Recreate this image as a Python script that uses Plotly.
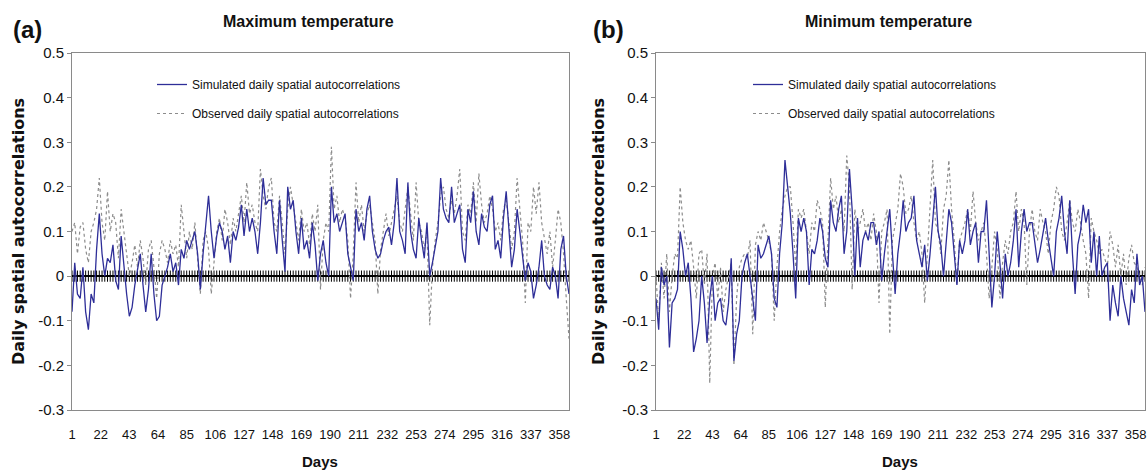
import plotly.graph_objects as go

# ---------------- data ----------------
ALL_DAYS = list(range(1, 366))
DAYS = list(range(1, 366, 2))          # sampled days 1,3,...,365
XTICKS = [1, 22, 43, 64, 85, 106, 127, 148, 169, 190, 211, 232, 253, 274, 295, 316, 337, 358]
YTICKS = [-0.3, -0.2, -0.1, 0, 0.1, 0.2, 0.3, 0.4, 0.5]
YTICK_TEXT = ["-0.3", "-0.2", "-0.1", "0", "0.1", "0.2", "0.3", "0.4", "0.5"]

SIM_MAX = [
    -0.08, 0.03, -0.04, -0.05, 0.02, -0.08, -0.12, -0.04, -0.06, 0.06,
    0.14, 0.05, 0.00, 0.04, 0.03, 0.07, -0.01, -0.03, 0.09, 0.02,
    -0.04, -0.09, -0.07, -0.02, 0.02, 0.05, -0.02, -0.08, -0.03, 0.05,
    -0.04, -0.10, -0.09, -0.02, 0.00, 0.02, 0.05, 0.01, 0.03, -0.02,
    0.06, 0.04, 0.08, 0.06, 0.08, 0.10, 0.05, -0.03, 0.05, 0.12,
    0.18, 0.10, 0.04, 0.09, 0.12, 0.10, 0.06, 0.09, 0.03, 0.10,
    0.08, 0.11, 0.16, 0.09, 0.15, 0.10, 0.13, 0.10, 0.05, 0.12,
    0.22, 0.16, 0.17, 0.17, 0.10, 0.05, 0.17, 0.08, 0.01, 0.20,
    0.15, 0.17, 0.10, 0.05, 0.13, 0.06, 0.08, 0.04, 0.12, 0.07,
    -0.01, 0.05, 0.08, 0.03, 0.00, 0.20, 0.12, 0.14, 0.10, 0.12,
    0.14, 0.05, 0.02, -0.01, 0.15, 0.10, 0.12, 0.08, 0.15, 0.18,
    0.10, 0.06, 0.04, 0.05, 0.08, 0.10, 0.11, 0.07, 0.12, 0.22,
    0.10, 0.08, 0.05, 0.21, 0.10, 0.06, 0.04, 0.13, 0.08, 0.04,
    0.12, 0.00, 0.03, 0.07, 0.10, 0.22, 0.15, 0.13, 0.12, 0.20,
    0.12, 0.14, 0.16, 0.06, 0.03, 0.15, 0.12, 0.19, 0.10, 0.07,
    0.14, 0.11, 0.10, 0.16, 0.18, 0.06, 0.08, 0.04, 0.13, 0.19,
    0.10, 0.02, 0.06, 0.15, 0.10, 0.05, -0.01, 0.03, 0.01, -0.05,
    -0.02, 0.02, 0.08, 0.00, -0.02, -0.03, 0.02, 0.00, -0.05, 0.06,
    0.09, 0.00, -0.04,
]

OBS_MAX = [
    0.10, 0.12, 0.05, 0.11, 0.12, 0.06, 0.03, 0.10, 0.12, 0.15,
    0.22, 0.12, 0.08, 0.19, 0.10, 0.14, 0.12, 0.04, 0.15, 0.10,
    0.05, 0.00, 0.03, 0.07, 0.02, 0.08, 0.04, -0.02, 0.06, 0.08,
    0.02, -0.05, 0.05, 0.08, 0.06, 0.03, 0.08, 0.05, 0.07, 0.02,
    0.16, 0.10, 0.04, 0.10, 0.06, 0.12, 0.03, -0.04, 0.08, 0.10,
    0.06, -0.04, 0.03, 0.10, 0.13, 0.08, 0.15, 0.12, 0.07, 0.13,
    0.10, 0.14, 0.18, 0.12, 0.21, 0.14, 0.16, 0.12, 0.10, 0.24,
    0.18, 0.15, 0.20, 0.22, 0.12, 0.10, 0.18, 0.12, 0.05, 0.15,
    0.20, 0.16, 0.12, 0.08, 0.15, 0.10, 0.12, 0.07, 0.14, 0.10,
    0.16, -0.03, 0.08, 0.12, 0.10, 0.29, 0.15, 0.18, 0.12, 0.15,
    0.13, 0.08, -0.05, 0.05, 0.21, 0.12, 0.16, 0.10, 0.14, 0.16,
    0.12, 0.08, -0.04, 0.06, 0.10, 0.14, 0.09, 0.12, 0.15, 0.18,
    0.12, 0.10, 0.15, 0.20, 0.14, 0.08, 0.21, 0.12, 0.10, 0.06,
    0.10, -0.11, 0.02, 0.08, 0.12, 0.18, 0.20, 0.15, 0.13, 0.17,
    0.14, 0.18, 0.24, 0.10, 0.08, 0.16, 0.14, 0.21, 0.12, 0.23,
    0.16, 0.12, 0.14, 0.18, 0.15, 0.10, 0.12, 0.08, 0.15, 0.17,
    0.12, 0.06, 0.10, 0.22, 0.15, 0.08, -0.06, 0.12, 0.10, 0.20,
    0.14, 0.21, 0.12, 0.08, 0.05, 0.10, 0.02, 0.08, 0.15, 0.12,
    0.05, -0.05, -0.14,
]

SIM_MIN = [
    -0.05, -0.12, 0.02, -0.02, 0.00, -0.16, -0.06, -0.05, -0.03, 0.10,
    0.06, 0.00, 0.03, -0.05, -0.17, -0.14, -0.10, 0.00, -0.06, -0.15,
    -0.05, 0.00, -0.10, -0.06, -0.05, -0.10, -0.11, -0.06, 0.04, -0.19,
    -0.13, -0.10, 0.00, 0.03, 0.05, 0.00, -0.04, -0.10, 0.07, 0.04,
    0.05, 0.07, 0.09, 0.05, -0.05, -0.07, 0.05, 0.12, 0.26, 0.20,
    0.14, 0.05, -0.05, 0.13, 0.10, 0.13, 0.10, -0.02, 0.06, 0.05,
    0.08, 0.13, 0.10, 0.04, 0.02, 0.17, 0.12, 0.10, 0.15, 0.18,
    0.05, 0.10, 0.24, 0.15, 0.00, 0.13, 0.02, 0.08, 0.10, 0.08,
    0.12, 0.12, 0.07, 0.10, -0.01, 0.05, 0.10, 0.15, 0.05, -0.04,
    0.05, 0.10, 0.17, 0.10, 0.12, 0.13, 0.18, 0.08, 0.05, 0.02,
    0.07, -0.01, 0.05, 0.12, 0.20, 0.10, 0.07, 0.00, 0.08, 0.15,
    0.12, 0.05, -0.02, 0.08, 0.05, 0.08, 0.15, 0.07, 0.10, 0.12,
    0.03, 0.10, 0.10, 0.17, 0.05, -0.07, 0.00, 0.10, 0.03, -0.05,
    0.05, 0.00, 0.03, 0.08, 0.15, 0.02, 0.10, 0.15, 0.10, 0.12,
    0.12, 0.08, 0.03, 0.06, 0.10, 0.13, 0.08, 0.04, 0.00, 0.10,
    0.13, 0.18, 0.10, 0.05, 0.17, 0.05, -0.04, 0.07, 0.10, 0.16,
    0.12, 0.15, 0.03, 0.10, 0.00, 0.09, 0.00, 0.02, 0.03, -0.10,
    -0.02, -0.06, -0.09, 0.00, -0.05, -0.08, -0.11, -0.03, -0.06, 0.05,
    -0.02, 0.00, -0.08,
]

OBS_MIN = [
    0.00, -0.10, 0.03, -0.05, 0.05, -0.08, 0.00, 0.05, 0.04, 0.20,
    0.12, 0.08, 0.06, 0.08, 0.02, -0.05, 0.05, 0.06, -0.02, 0.05,
    -0.24, 0.00, 0.03, -0.05, 0.02, -0.08, -0.03, 0.00, 0.03, -0.20,
    -0.05, 0.02, 0.04, 0.05, 0.04, 0.08, -0.13, 0.07, 0.10, 0.08,
    0.12, 0.10, 0.08, 0.05, -0.10, 0.02, 0.10, 0.15, 0.18, 0.20,
    0.20, 0.12, 0.02, 0.15, 0.13, 0.15, 0.10, 0.05, 0.12, 0.10,
    0.17, 0.15, 0.12, -0.07, 0.08, 0.22, 0.15, 0.18, 0.12, 0.15,
    0.10, 0.27, 0.20, -0.03, 0.15, 0.10, 0.12, 0.15, 0.10, 0.12,
    0.08, 0.14, 0.10, -0.06, 0.10, 0.12, 0.15, -0.13, 0.08, 0.12,
    0.15, 0.23, 0.20, 0.14, 0.15, 0.18, 0.12, 0.08, 0.10, 0.05,
    -0.06, 0.05, 0.15, 0.26, 0.12, 0.10, 0.05, 0.15, 0.18, 0.26,
    0.15, 0.08, -0.02, 0.08, 0.10, 0.12, 0.15, 0.10, 0.19, 0.12,
    0.08, 0.10, 0.12, 0.05, -0.05, 0.02, 0.10, 0.06, -0.05, 0.03,
    0.08, 0.05, 0.10, 0.12, 0.19, 0.10, 0.15, 0.12, -0.02, 0.10,
    0.15, 0.10, 0.08, 0.15, 0.12, 0.10, 0.05, 0.12, 0.15, 0.20,
    0.18, 0.10, 0.08, 0.12, 0.17, 0.12, 0.10, 0.15, 0.12, 0.08,
    0.05, -0.05, 0.13, 0.10, 0.08, 0.05, 0.06, 0.04, 0.02, 0.10,
    0.07, 0.02, 0.07, 0.00, 0.05, -0.02, 0.04, 0.07, 0.03, 0.02,
    0.00, -0.02, 0.02,
]

SIM_NAME = "Simulated daily spatial autocorrelations"
OBS_NAME = "Observed daily spatial autocorrelations"
ZERO = [0] * len(DAYS)

# ---------------- styling ----------------
FONT = "Liberation Sans, Arial, sans-serif"
YTITLE_FONT = "DejaVu Sans, Liberation Sans, sans-serif"
SIM_COLOR = "#2e2e98"
OBS_COLOR = "#8c8c8c"
W, H = 1147, 470

fig = go.Figure()

panels = [
    ("x", "y", "legend", SIM_MAX, OBS_MAX),
    ("x2", "y2", "legend2", SIM_MIN, OBS_MIN),
]
for xa, ya, leg, sim, obs in panels:
    # category tick marks drawn along the zero line
    fig.add_trace(go.Scatter(
        x=DAYS, y=ZERO, xaxis=xa, yaxis=ya, mode="markers",
        marker=dict(symbol="line-ns", size=8, line=dict(width=1, color="#000000")),
        showlegend=False, hoverinfo="skip"))
    fig.add_trace(go.Scatter(
        x=DAYS, y=obs, xaxis=xa, yaxis=ya, mode="lines", name=OBS_NAME,
        line=dict(color=OBS_COLOR, width=1.2, dash="dot"),
        legend=leg, legendgroup=leg + "obs", legendrank=2))
    fig.add_trace(go.Scatter(
        x=DAYS, y=sim, xaxis=xa, yaxis=ya, mode="lines", name=SIM_NAME,
        line=dict(color=SIM_COLOR, width=1.3),
        legend=leg, legendgroup=leg + "sim", legendrank=1))

def px_x(p):
    return p / W

def px_y(p):
    return 1 - p / H

ydom = [px_y(410), px_y(53)]
xdom_a = [px_x(72), px_x(569)]
xdom_b = [px_x(656), px_x(1145)]

xaxis_common = dict(
    range=[1, 365], tickmode="array", tickvals=XTICKS, tickangle=0,
    showgrid=False, zeroline=False, showline=True, mirror=True,
    linecolor="#8a8a8a", linewidth=1, ticks="", automargin=False,
    ticklabelstandoff=12, ticklabeloverflow="allow",
    tickfont=dict(family=FONT, size=13, color="#111111"),
)
yaxis_common = dict(
    range=[-0.3, 0.5], tickmode="array", tickvals=YTICKS, ticktext=YTICK_TEXT,
    showgrid=False, zeroline=True, zerolinecolor="#000000", zerolinewidth=2,
    showline=True, mirror=True, linecolor="#8a8a8a", linewidth=1,
    ticks="outside", ticklen=4, tickcolor="#8a8a8a", automargin=False,
    ticklabeloverflow="allow",
    tickfont=dict(family=FONT, size=15, color="#111111"),
)

legend_common = dict(
    font=dict(family=FONT, size=12, color="#111111"),
    bgcolor="rgba(0,0,0,0)", borderwidth=0,
    xanchor="left", yanchor="top", tracegroupgap=10,
    orientation="v",
)

fig.update_layout(
    width=W, height=H,
    margin=dict(l=0, r=0, t=0, b=0, autoexpand=False),
    paper_bgcolor="white", plot_bgcolor="white",
    xaxis=dict(domain=xdom_a, anchor="y", **xaxis_common),
    yaxis=dict(domain=ydom, anchor="x", **yaxis_common),
    xaxis2=dict(domain=xdom_b, anchor="y2", **xaxis_common),
    yaxis2=dict(domain=ydom, anchor="x2", **yaxis_common),
    legend=dict(x=px_x(152), y=px_y(70), **legend_common),
    legend2=dict(x=px_x(748), y=px_y(70), **legend_common),
    showlegend=True,
)

annotations = []
for cx, label, title in [(0, "(a)", "Maximum temperature"), (580, "(b)", "Minimum temperature")]:
    annotations.append(dict(
        x=px_x(cx + 11), y=px_y(30), xref="paper", yref="paper", text="<b>%s</b>" % label,
        showarrow=False, xanchor="left", yanchor="middle",
        font=dict(family=FONT, size=24, color="#111111")))
    annotations.append(dict(
        x=px_x(cx + 308), y=px_y(22), xref="paper", yref="paper", text="<b>%s</b>" % title,
        showarrow=False, xanchor="center", yanchor="middle",
        font=dict(family=FONT, size=16, color="#111111")))
    annotations.append(dict(
        x=px_x(cx + 18), y=px_y(232), xref="paper", yref="paper",
        text="<b>Daily spatial autocorrelations</b>", textangle=-90,
        showarrow=False, xanchor="center", yanchor="middle",
        font=dict(family=YTITLE_FONT, size=16, color="#111111")))
    annotations.append(dict(
        x=px_x(cx + 320), y=px_y(461), xref="paper", yref="paper", text="<b>Days</b>",
        showarrow=False, xanchor="center", yanchor="middle",
        font=dict(family=FONT, size=15, color="#111111")))
fig.update_layout(annotations=annotations)

# remove the page's default body margin so the figure fills the window exactly
fig.write_html(
    "out.html",
    config={"displayModeBar": False},
    post_script="document.body.style.margin='0';document.body.style.overflow='hidden';",
)
